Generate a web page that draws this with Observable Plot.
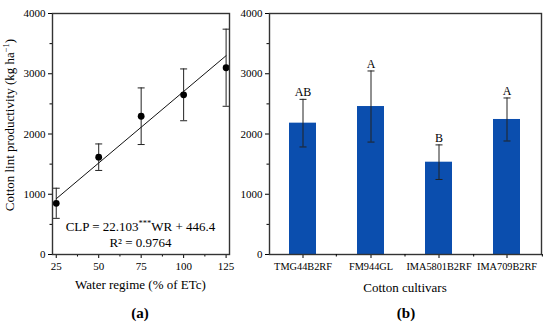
<!DOCTYPE html>
<html><head><meta charset="utf-8">
<script src="https://cdn.jsdelivr.net/npm/d3@7"></script>
<script src="https://cdn.jsdelivr.net/npm/@observablehq/plot@0.6"></script>
<style>
body{margin:0;background:#fff;font-family:"Liberation Serif",serif;}
#wrap{position:relative;width:550px;height:329px;overflow:hidden;}
#pa{position:absolute;left:0;top:0;}
#pb{position:absolute;left:236px;top:0;}
.plab{position:absolute;top:305px;font-weight:bold;font-size:15px;font-family:"Liberation Serif",serif;transform:translateX(-50%);}
</style>
</head><body>
<div id="wrap"><div id="pa"></div><div id="pb"></div>
<div class="plab" style="left:140px">(a)</div>
<div class="plab" style="left:406px">(b)</div>
</div>
<script>
// ---- data ----
const waterRegime = [25, 50, 75, 100, 125];
const clpMean = [850, 1615, 2295, 2650, 3100];
const clpErr = [250, 220, 470, 430, 640];
const fitWR = [25, 125];
const fitCLP = [925, 3300];
const cultivars = ["TMG44B2RF", "FM944GL", "IMA5801B2RF", "IMA709B2RF"];
const cultivarMean = [2180, 2456, 1532, 2241];
const cultivarErr = [395, 590, 287, 357];
const letters = ["AB", "A", "B", "A"];
const yTicks = [0, 1000, 2000, 3000, 4000];
const yMinor = [500, 1500, 2500, 3500];
const xTicks = [25, 50, 75, 100, 125];
const xMinor = [37.5, 62.5, 87.5, 112.5];

const pts = waterRegime.map((w, i) => ({w, m: clpMean[i], lo: clpMean[i] - clpErr[i], hi: clpMean[i] + clpErr[i]}));
const fit = fitWR.map((w, i) => ({w, v: fitCLP[i]}));
const bars = cultivars.map((c, i) => ({c, m: cultivarMean[i], lo: cultivarMean[i] - cultivarErr[i], hi: cultivarMean[i] + cultivarErr[i], l: letters[i]}));

const cap = {draw(ctx) { ctx.moveTo(-3.5, 0); ctx.lineTo(3.5, 0); }};
const style = {fontFamily: "Liberation Serif", fontSize: "11px", color: "#000", background: "transparent", overflow: "visible"};
const H = 300, MT = 13, MB = 46;
const fmt = d => String(d);

const A = Plot.plot({
  width: 236, height: H, marginLeft: 52, marginRight: 7, marginTop: MT, marginBottom: MB,
  style,
  x: {domain: [22.8, 127]},
  y: {domain: [0, 4000]},
  marks: [
    Plot.axisY({ticks: yTicks, tickSize: 4, tickPadding: 3, tickFormat: fmt, label: null}),
    Plot.axisY({ticks: yMinor, tickSize: 2.5, tickFormat: () => "", label: null}),
    Plot.axisX({ticks: xTicks, tickSize: 4, tickPadding: 4, tickFormat: fmt, label: null}),
    Plot.axisX({ticks: xMinor, tickSize: 2.5, tickFormat: () => "", label: null}),
    Plot.line(fit, {x: "w", y: "v", stroke: "#111", strokeWidth: 1}),
    Plot.ruleX(pts, {x: "w", y1: "lo", y2: "hi", stroke: "#222", strokeWidth: 1}),
    Plot.dot(pts, {x: "w", y: "hi", symbol: cap, stroke: "#222", strokeWidth: 1}),
    Plot.dot(pts, {x: "w", y: "lo", symbol: cap, stroke: "#222", strokeWidth: 1}),
    Plot.dot(pts, {x: "w", y: "m", r: 3.4, fill: "#000", stroke: "none"}),
    Plot.frame({stroke: "#333", strokeWidth: 1.4})
  ]
});

const B = Plot.plot({
  width: 314, height: H, marginLeft: 33, marginRight: 9, marginTop: MT, marginBottom: MB,
  style,
  x: {domain: cultivars, paddingInner: 0.6, paddingOuter: 0.28},
  y: {domain: [0, 4000]},
  marks: [
    Plot.barY(bars, {x: "c", y: "m", fill: "#0b4eae"}),
    Plot.axisY({ticks: yTicks, tickSize: 4, tickPadding: 3, tickFormat: fmt, label: null}),
    Plot.axisY({ticks: yMinor, tickSize: 2.5, tickFormat: () => "", label: null}),
    Plot.axisX({tickSize: 4, tickPadding: 4, label: null, fontSize: 10.3}),
    Plot.ruleX(bars, {x: "c", y1: "lo", y2: "hi", stroke: "#222", strokeWidth: 1}),
    Plot.dot(bars, {x: "c", y: "hi", symbol: cap, stroke: "#222", strokeWidth: 1}),
    Plot.dot(bars, {x: "c", y: "lo", symbol: cap, stroke: "#222", strokeWidth: 1}),
    Plot.text(bars, {x: "c", y: "hi", text: "l", dy: -3, lineAnchor: "bottom", fontSize: 12}),
    Plot.frame({stroke: "#333", strokeWidth: 1.4})
  ]
});

document.getElementById("pa").appendChild(A);
document.getElementById("pb").appendChild(B);

// minor x ticks between bars
const sx = B.scale("x");
const xb = d3.scaleBand().domain(sx.domain).range(sx.range).paddingInner(sx.paddingInner).paddingOuter(sx.paddingOuter).align(sx.align ?? 0.5);
const yBottom = H - MB;
d3.select(B).append("g").attr("stroke", "#000").selectAll("line").data(cultivars).join("line")
  .attr("x1", c => xb(c) + xb.bandwidth() / 2 + xb.step() / 2)
  .attr("x2", c => xb(c) + xb.bandwidth() / 2 + xb.step() / 2)
  .attr("y1", yBottom).attr("y2", yBottom + 2.5);

// texts
const sa = d3.select(A);
const ylab = sa.append("text").attr("transform", "translate(14,125) rotate(-90)")
  .attr("text-anchor", "middle").attr("font-size", 13).attr("font-family", "Liberation Serif").attr("fill", "#000");
ylab.append("tspan").text("Cotton lint productivity (kg ha");
ylab.append("tspan").attr("dy", -5).attr("font-size", 8.5).text("−1");
ylab.append("tspan").attr("dy", 5).text(")");

sa.append("text").attr("x", 140.5).attr("y", 289).attr("text-anchor", "middle")
  .attr("font-size", 13).attr("font-family", "Liberation Serif").attr("fill", "#000").text("Water regime (% of ETc)");

const eq = sa.append("text").attr("x", 140.5).attr("y", 231).attr("text-anchor", "middle")
  .attr("font-size", 13).attr("font-family", "Liberation Serif").attr("fill", "#000");
eq.append("tspan").text("CLP = 22.103");
eq.append("tspan").attr("dy", -5).attr("font-size", 8.5).text("***");
eq.append("tspan").attr("dy", 5).text("WR + 446.4");
sa.append("text").attr("x", 140.5).attr("y", 247).attr("text-anchor", "middle")
  .attr("font-size", 13).attr("font-family", "Liberation Serif").attr("fill", "#000").text("R² = 0.9764");

d3.select(B).append("text").attr("x", (33 + 314 - 9) / 2).attr("y", 292).attr("text-anchor", "middle")
  .attr("font-size", 13).attr("font-family", "Liberation Serif").attr("fill", "#000").text("Cotton cultivars");
</script>
</body></html>
